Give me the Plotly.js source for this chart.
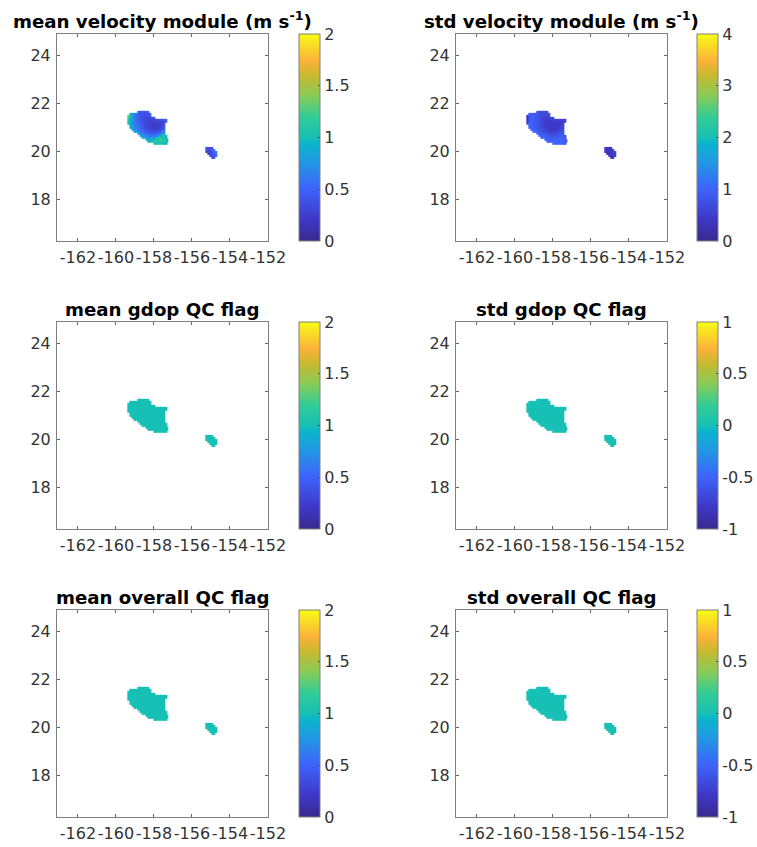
<!DOCTYPE html>
<html><head><meta charset="utf-8">
<script src="https://cdn.plot.ly/plotly-3.0.1.min.js"></script>
<style>html,body{margin:0;padding:0;background:#fff}</style></head>
<body><div id="chart" style="width:757px;height:847px"></div>
<script>
const titles = ["mean velocity module (m s<sup>-1</sup>)","std velocity module (m s<sup>-1</sup>)","mean gdop QC flag","std gdop QC flag","mean overall QC flag","std overall QC flag"];
const xTicks = [-162,-160,-158,-156,-154,-152];
const xTickText = ["-162","-160","-158","-156","-154","-152"];
const yTicks = [18,20,22,24];
const yTickText = ["18","20","22","24"];
const cbMeanVel = {vals:[0,0.5,1,1.5,2],text:["0","0.5","1","1.5","2"]};
const cbStdVel = {vals:[0,1,2,3,4],text:["0","1","2","3","4"]};
const cbMeanFlag = {vals:[0,0.5,1,1.5,2],text:["0","0.5","1","1.5","2"]};
const cbStdFlag = {vals:[-1,-0.5,0,0.5,1],text:["-1","-0.5","0","0.5","1"]};

const bigLon = [-159.35,-159.25,-159.14,-159.04,-158.93,-158.83,-158.73,-158.62,-158.52,-158.41,-158.31,-158.21,-158.10,-158.00,-157.89,-157.79,-157.69,-157.58,-157.48,-157.37,-157.27];
const bigLat = [21.65,21.57,21.48,21.40,21.31,21.23,21.15,21.06,20.98,20.89,20.81,20.72,20.64,20.56,20.47,20.39,20.30];
const bigStart = [5,1,0,0,0,0,0,1,1,2,3,5,6,7,9,10,13];
const bigMean = [
[.5,.42,.42,.42,.45,.5],
[.95,.8,.65,.55,.45,.42,.38,.38,.38,.4,.5],
[1.3,1.0,.8,.65,.55,.46,.4,.38,.35,.35,.37,.42],
[1.25,.95,.78,.65,.55,.46,.4,.37,.33,.32,.32,.33,.37,.42],
[1.1,.9,.75,.65,.55,.48,.42,.37,.33,.3,.29,.29,.3,.32,.35,.4,.4,.4,.42,.5],
[1.05,.9,.75,.65,.56,.5,.43,.38,.33,.3,.28,.26,.26,.27,.28,.3,.3,.3,.33,.45],
[1.0,.88,.75,.66,.58,.5,.44,.39,.34,.3,.27,.25,.24,.24,.25,.25,.27,.3,.4],
[.9,.78,.7,.62,.54,.47,.41,.36,.31,.28,.25,.24,.24,.24,.25,.27,.3,.4],
[.88,.8,.72,.64,.56,.5,.43,.38,.33,.29,.27,.25,.24,.24,.25,.28,.34,.45],
[.85,.8,.7,.62,.55,.48,.43,.38,.34,.31,.29,.28,.28,.3,.34,.42,.55],
[.85,.75,.68,.6,.54,.48,.43,.39,.37,.35,.35,.37,.4,.46,.55,.68],
[.8,.74,.66,.6,.54,.5,.47,.45,.45,.48,.55,.65,.78,.92],
[.85,.8,.72,.66,.6,.58,.58,.62,.68,.76,.88,1.0,1.1,.95],
[.9,.85,.78,.75,.75,.78,.85,.95,1.05,1.15,1.0,1.05,.95],
[.9,.88,.9,.95,1.05,1.15,1.05,1.2,1.05,1.1,1.0,.88],
[.95,1.0,1.05,1.15,1.1,1.05,1.15,1.05,1.15,1.0,.9],
[1.05,.98,1.0,1.1,1.0,.95,.88]];
const bigStd = [
[.8,.7,.66,.66,.7,.75],
[.9,.95,.9,.85,.78,.7,.65,.62,.62,.66,.75],
[.4,.95,1.0,.95,.88,.8,.7,.62,.58,.58,.6,.7],
[.25,.82,1.0,.95,.88,.8,.7,.62,.58,.55,.55,.58,.6,.66],
[.3,.85,1.0,.95,.88,.8,.7,.62,.56,.52,.5,.5,.52,.54,.58,.58,.58,.58,.55,.62],
[.45,.95,1.0,.95,.88,.8,.7,.62,.56,.52,.48,.46,.46,.46,.48,.48,.46,.46,.48,.58],
[.75,1.0,1.0,.95,.88,.82,.72,.64,.56,.5,.46,.44,.42,.42,.42,.42,.44,.46,.58],
[.95,1.0,.95,.9,.82,.72,.64,.56,.5,.46,.44,.42,.42,.42,.44,.46,.52,.62],
[1.0,1.0,.95,.9,.84,.75,.66,.58,.52,.47,.44,.43,.43,.43,.46,.52,.58,.7],
[1.0,1.0,.95,.88,.8,.72,.64,.58,.52,.48,.46,.46,.48,.5,.55,.64,.74],
[1.0,1.0,.95,.86,.8,.72,.65,.6,.55,.52,.52,.55,.58,.65,.74,.88],
[1.0,1.0,.92,.84,.78,.72,.66,.64,.64,.66,.72,.78,.88,.88],
[1.0,1.0,.95,.9,.82,.78,.75,.75,.78,.82,.88,.92,.92,.68],
[1.0,1.0,.95,.92,.9,.88,.88,.9,.94,.96,.96,.92,.72],
[1.0,1.0,.96,.96,.96,.96,.98,1.0,1.0,.96,.92,.72],
[1.0,1.0,1.0,1.0,1.0,1.0,1.0,1.0,1.0,.96,.72],
[.95,1.0,1.0,1.0,1.0,.95,.75]];

const smallLon = [-155.25,-155.15,-155.04,-154.94,-154.83,-154.73];
const smallLat = [20.14,20.06,19.97,19.89,19.81,19.72];
const smallStart = [0,0,0,1,2,3];
const smallMean = [
[.45,.36,.36,.4],
[.4,.32,.32,.45,.55],
[.36,.3,.3,.42,.55,.6],
[.3,.3,.38,.5,.55],
[.32,.38,.45,.5],
[.36,.4]];
const smallStd = [
[.45,.4,.4,.42],
[.4,.35,.36,.45,.55],
[.38,.34,.34,.42,.5,.55],
[.34,.34,.38,.45,.5],
[.36,.38,.42,.46],
[.38,.42]];

const meanFlagValue = 1;
const stdFlagValue = 0;

const colors = [[0,"#382a8e"],[0.1,"#3f36c4"],[0.25,"#3e63fb"],[0.38,"#2297e3"],[0.47,"#0ab4cc"],[0.5,"#17c0b4"],[0.6,"#33cc96"],[0.7,"#88cb58"],[0.8,"#c8b92e"],[0.87,"#fbb23a"],[1,"#f8fb14"]];

function fill(vals, starts, ncol){
  return vals.map((r,k)=>{const a=new Array(ncol).fill(null); r.forEach((v,i)=>{a[starts[k]+i]=v;}); return a;});
}
function flag(vals, v){ return vals.map(r=>r.map(()=>v)); }

const panels = [
 {big:bigMean, small:smallMean, zr:[0,2], cb:cbMeanVel},
 {big:bigStd, small:smallStd, zr:[0,4], cb:cbStdVel},
 {big:flag(bigMean,meanFlagValue), small:flag(smallMean,meanFlagValue), zr:[0,2], cb:cbMeanFlag},
 {big:flag(bigMean,stdFlagValue), small:flag(smallMean,stdFlagValue), zr:[-1,1], cb:cbStdFlag},
 {big:flag(bigMean,meanFlagValue), small:flag(smallMean,meanFlagValue), zr:[0,2], cb:cbMeanFlag},
 {big:flag(bigMean,stdFlagValue), small:flag(smallMean,stdFlagValue), zr:[-1,1], cb:cbStdFlag}
];

const W=757,H=847;
const colX=[[57,268],[456,667]];
const cbX=[299,697];
const rowY=[[34,240.5],[322,528.5],[610,816.5]];
const titleY=[20,309,597];
const FONT="DejaVu Sans";
const TXT="#333333", FRAME="#808080";

const data=[], annotations=[], layout={width:W,height:H,margin:{l:0,r:0,t:0,b:0,pad:0},paper_bgcolor:"#fff",plot_bgcolor:"#fff",showlegend:false,font:{family:FONT,size:16,color:TXT}};

panels.forEach((p,i)=>{
  const c=i%2, r=Math.floor(i/2), n=i+1;
  const xa="x"+(n===1?"":n), ya="y"+(n===1?"":n);
  const [x0,x1]=colX[c], [y0,y1]=rowY[r];
  const tail={zmin:p.zr[0],zmax:p.zr[1],colorscale:colors,xaxis:xa,yaxis:ya,hoverongaps:false};
  data.push(Object.assign({type:"heatmap",x:bigLon,y:bigLat,z:fill(p.big,bigStart,bigLon.length),showscale:true,
    colorbar:{x:cbX[c]/W,xanchor:"left",y:1-y0/H,yanchor:"top",len:y1-y0,lenmode:"pixels",thickness:21,thicknessmode:"pixels",
      outlinecolor:FRAME,outlinewidth:1,borderwidth:0,ticks:"inside",ticklen:2,tickcolor:"#444",tickmode:"array",tickvals:p.cb.vals,ticktext:p.cb.text,
      tickfont:{family:FONT,size:16,color:TXT},xpad:0,ypad:0}},tail));
  data.push(Object.assign({type:"heatmap",x:smallLon,y:smallLat,z:fill(p.small,smallStart,smallLon.length),showscale:false},tail));
  const common={showgrid:false,zeroline:false,showline:true,linecolor:FRAME,linewidth:1,mirror:"ticks",ticks:"inside",ticklen:3,tickcolor:"#666",tickfont:{family:FONT,size:16,color:TXT},tickmode:"array",tickangle:0,ticklabelstandoff:2};
  layout["xaxis"+(n===1?"":n)]=Object.assign({},common,{domain:[x0/W,x1/W],range:[-163.1,-152],tickvals:xTicks,ticktext:xTickText,anchor:ya});
  layout["yaxis"+(n===1?"":n)]=Object.assign({},common,{domain:[1-y1/H,1-y0/H],range:[16.27,24.9],tickvals:yTicks,ticktext:yTickText,anchor:xa});
  annotations.push({text:"<b>"+titles[i]+"</b>",xref:"paper",yref:"paper",x:(x0+x1)/2/W,y:1-titleY[r]/H,xanchor:"center",yanchor:"middle",showarrow:false,font:{family:FONT,size:18.2,color:"#000"}});
});
layout.annotations=annotations;
Plotly.newPlot("chart",data,layout,{displayModeBar:false,staticPlot:true});
</script></body></html>
